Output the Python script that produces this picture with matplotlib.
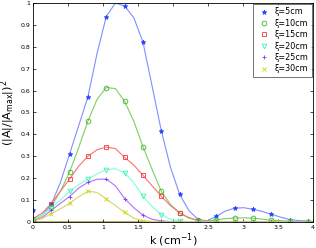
import numpy as np
import matplotlib
matplotlib.use('Agg')
import matplotlib.pyplot as plt

# k grid of the curves (step pi/24) and of the markers (step pi/12)
k_line = [i * np.pi / 24 for i in range(31)]
k_mark = [i * np.pi / 12 for i in range(16)]

labels = ['ξ=5cm', 'ξ=10cm', 'ξ=15cm', 'ξ=20cm', 'ξ=25cm', 'ξ=30cm']

# curves
line5 = [0.01, 0.03, 0.08, 0.18, 0.31, 0.44, 0.571, 0.77, 0.938, 1.0, 0.986, 0.933, 0.822, 0.62, 0.417, 0.25,
         0.126, 0.053, 0.011, 0.005, 0.026, 0.05, 0.063, 0.065, 0.058, 0.048, 0.035, 0.022, 0.011, 0.006, 0.005]
line10 = [0.01, 0.03, 0.068, 0.14, 0.228, 0.34, 0.46, 0.56, 0.614, 0.609, 0.551, 0.46, 0.344, 0.24, 0.14, 0.08,
          0.041, 0.018, 0.008, 0.004, 0.01, 0.015, 0.018, 0.019, 0.017, 0.013, 0.008, 0.006, 0.003, 0.002, 0.001]
line15 = [0.015, 0.04, 0.084, 0.14, 0.196, 0.255, 0.30, 0.33, 0.342, 0.335, 0.295, 0.26, 0.213, 0.165, 0.117, 0.075,
          0.041, 0.02, 0.006, 0.002, 0.002, 0.001, 0.001, 0.001, 0.001, 0.001, 0.001, 0.001, 0.001, 0.001, 0.001]
line20 = [0.01, 0.03, 0.066, 0.10, 0.14, 0.17, 0.196, 0.22, 0.239, 0.243, 0.224, 0.18, 0.117, 0.07, 0.034, 0.012,
          0.005, 0.001, 0.0, 0.0, 0.0, 0.0, 0.0, 0.0, 0.0, 0.0, 0.0, 0.0, 0.0, 0.0, 0.0]
line25 = [0.005, 0.02, 0.053, 0.085, 0.116, 0.155, 0.181, 0.195, 0.196, 0.165, 0.107, 0.065, 0.031, 0.012, 0.005, 0.001,
          0.0, 0.0, 0.0, 0.0, 0.0, 0.0, 0.0, 0.0, 0.0, 0.0, 0.0, 0.0, 0.0, 0.0, 0.0]
line30 = [0.005, 0.015, 0.038, 0.06, 0.085, 0.115, 0.14, 0.135, 0.105, 0.075, 0.044, 0.018, 0.005, 0.002, 0.0, 0.0,
          0.0, 0.0, 0.0, 0.0, 0.0, 0.0, 0.0, 0.0, 0.0, 0.0, 0.0, 0.0, 0.0, 0.0, 0.0]

# markers
mark5 = [0.055, 0.08, 0.312, 0.571, 0.938, 0.986, 0.822, 0.417, 0.126, 0.011, 0.026, 0.063, 0.058, 0.035, 0.011, 0.005]
mark10 = [0.01, 0.068, 0.228, 0.46, 0.614, 0.551, 0.344, 0.14, 0.041, 0.008, 0.01, 0.018, 0.017, 0.008, 0.003, 0.001]
mark15 = [0.015, 0.084, 0.196, 0.30, 0.342, 0.295, 0.213, 0.117, 0.041, 0.006, 0.002, 0.001, 0.001, 0.001, 0.001, 0.001]
mark20 = [0.01, 0.066, 0.14, 0.196, 0.239, 0.224, 0.117, 0.034, 0.005, 0.0, 0.0, 0.0, 0.0, 0.0, 0.0, 0.0]
mark25 = [0.005, 0.053, 0.116, 0.181, 0.196, 0.107, 0.031, 0.005, 0.0, 0.0, 0.0, 0.0, 0.0, 0.0, 0.0, 0.0]
mark30 = [0.005, 0.038, 0.085, 0.14, 0.105, 0.044, 0.005, 0.0, 0.0, 0.0, 0.0, 0.0, 0.0, 0.0, 0.0, 0.0]

lines = [line5, line10, line15, line20, line25, line30]
marks = [mark5, mark10, mark15, mark20, mark25, mark30]
markers = ['*', 'o', 's', 'v', '+', 'x']
mcol = ['#2b45ff', '#3fb52a', '#f03a3a', '#40f0b8', '#9030f0', '#c8d800']
lcol = ['#7d90ff', '#7fcf60', '#ff7070', '#80ffd0', '#b070ff', '#d0d860']

plt.rcParams['font.family'] = 'DejaVu Sans'
fig = plt.figure(figsize=(3.16, 2.48), dpi=100)
ax = fig.add_axes([0.104, 0.105, 0.887, 0.883])

for i in range(6):
    ax.plot(k_line, lines[i], '-', color=lcol[i], lw=0.8)
for i in range(6):
    ax.plot(k_mark, marks[i], linestyle='none', marker=markers[i], color=mcol[i],
            mfc='none' if markers[i] in 'osv' else mcol[i], ms=3.4, mew=0.6, label=labels[i])
ax.plot([0, 4], [0, 0], color='#b8b060', lw=1.5, zorder=1)

ax.set_xlim(0, 4)
ax.set_ylim(0, 1)
ax.set_xticks(np.arange(0, 4.01, 0.5))
ax.set_xticklabels(['0', '0.5', '1', '1.5', '2', '2.5', '3', '3.5', '4'])
ax.set_yticks(np.arange(0, 1.01, 0.1))
ax.set_yticklabels(['0', '0.1', '0.2', '0.3', '0.4', '0.5', '0.6', '0.7', '0.8', '0.9', '1'])
ax.tick_params(direction='in', length=2.5, width=0.5, labelsize=4.5, top=True, right=True, pad=2)
for s in ax.spines.values():
    s.set_linewidth(0.6)

ax.set_xlabel('k (cm$^{-1}$)', fontsize=8, labelpad=1)
ax.set_ylabel('(|A|/|A$_{\\rm max}$|)$^2$', fontsize=8, labelpad=2)

leg = ax.legend(loc='upper right', fontsize=5.8, frameon=True, fancybox=False, edgecolor='#333333',
                handlelength=1.8, handletextpad=0.5, borderpad=0.4, labelspacing=0.3,
                borderaxespad=0.15, markerscale=1.0)
leg.get_frame().set_linewidth(0.6)

fig.savefig('out.png', dpi=100)
